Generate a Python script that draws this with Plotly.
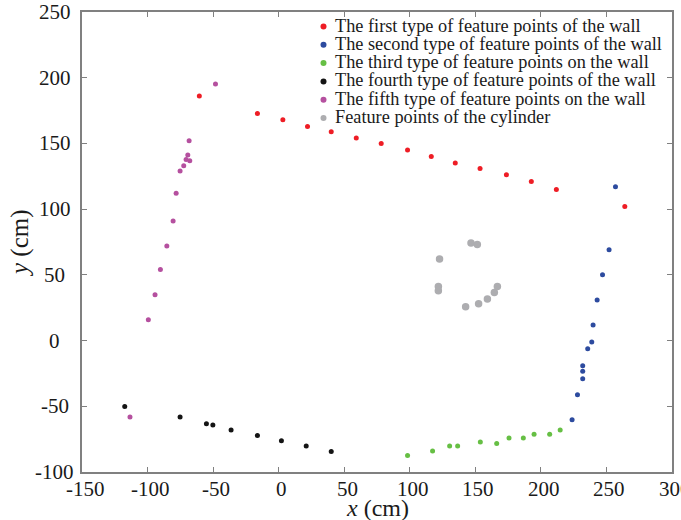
import plotly.graph_objects as go

# Data
first_x = [-60.5, -16.2, 3.2, 22.0, 40.1, 59.2, 78.2, 98.3, 116.4, 134.7, 153.6, 173.7, 192.7, 211.8, 264.0]
first_y = [186.1, 172.8, 168.0, 162.9, 158.9, 154.1, 150.0, 145.0, 140.1, 135.1, 131.0, 126.2, 121.1, 115.0, 102.1]

second_x = [223.8, 227.9, 231.9, 231.9, 231.9, 235.7, 238.8, 239.8, 242.9, 247.0, 252.0, 256.9]
second_y = [-60.3, -41.2, -29.1, -23.3, -19.2, -6.2, -1.1, 11.8, 30.8, 50.1, 69.1, 117.0]

third_x = [98.3, 117.4, 130.4, 136.5, 153.8, 166.3, 175.7, 186.6, 194.8, 206.7, 214.7]
third_y = [-87.4, -84.1, -80.3, -80.3, -77.2, -78.3, -74.2, -74.2, -71.2, -71.2, -68.1]

fourth_x = [-117.4, -75.2, -55.1, -50.2, -36.3, -16.2, 2.1, 21.0, 40.1]
fourth_y = [-50.2, -58.2, -63.3, -64.3, -68.1, -72.2, -76.3, -80.3, -84.4]

fifth_x = [-48.2, -68.3, -69.3, -70.6, -67.8, -72.4, -75.2, -78.2, -80.5, -85.3, -90.2, -94.3, -99.4, -113.4]
fifth_y = [195.2, 152.1, 141.2, 137.8, 136.8, 133.0, 129.0, 112.0, 91.0, 71.9, 54.1, 34.9, 15.8, -58.2]

cyl_x = [146.7, 151.5, 122.7, 121.8, 121.8, 142.6, 152.5, 159.2, 164.5, 166.8]
cyl_y = [74.2, 73.1, 62.0, 41.2, 37.9, 25.7, 28.0, 31.6, 36.6, 41.2]

x_ticks = [-150, -100, -50, 0, 50, 100, 150, 200, 250, 300]
x_ticklabels = ["-150", "-100", "-50", "0", "50", "100", "150", "200", "250", "300"]
y_ticks = [-100, -50, 0, 50, 100, 150, 200, 250]
y_ticklabels = ["-100", "-50", "0", "50", "100", "150", "200", "250"]

names = [
    "The first type of feature points of the wall",
    "The second type of feature points of the wall",
    "The third type of feature points on the wall",
    "The fourth type of feature points of the wall",
    "The fifth type of feature points on the wall",
    "Feature points of the cylinder",
]
colors = ["#ee1d25", "#2d4b9f", "#66bf44", "#141414", "#b5509f", "#adadb0"]
sizes = [5, 5, 5, 5, 5, 7.5]
series = [(first_x, first_y), (second_x, second_y), (third_x, third_y),
          (fourth_x, fourth_y), (fifth_x, fifth_y), (cyl_x, cyl_y)]

FONT = "Liberation Serif"
TXT = "#1a1a1a"
W, H = 681, 520
ML, MR, MT, MB = 82, 9, 12, 48
PW, PH = W - ML - MR, H - MT - MB

fig = go.Figure()
for (xs, ys), n, c, s in zip(series, names, colors, sizes):
    fig.add_trace(go.Scatter(x=xs, y=ys, mode="markers", name=n, showlegend=False,
                             marker=dict(color=c, size=s, line=dict(width=0))))

axis_common = dict(
    showgrid=False, zeroline=False, showline=True, linecolor="#808080", linewidth=1.5,
    mirror="ticks", ticks="inside", ticklen=5, tickcolor="#808080", tickwidth=1.2,
    automargin=False, showticklabels=False,
)

annotations = []
shapes = []

# Tick labels (placed through the axes' own scales)
for v, t in zip(x_ticks, x_ticklabels):
    annotations.append(dict(text=t, xref="x", x=v, yref="paper", y=(H - MB - 488.5) / PH,
                            xanchor="center", yanchor="middle", xshift=3, showarrow=False,
                            font=dict(family=FONT, size=21, color=TXT)))
for v, t in zip(y_ticks, y_ticklabels):
    annotations.append(dict(text=t, yref="y", y=v, xref="paper", x=(54.5 - ML) / PW,
                            xanchor="center", yanchor="middle", showarrow=False,
                            font=dict(family=FONT, size=21, color=TXT)))

# Manual legend (annotations + circle shapes), placed in paper coordinates
dot_px = 323.5
text_px = 333
row0_py = 26.5
row_gap = 18.3
for i, (n, c) in enumerate(zip(names, colors)):
    py = row0_py + i * row_gap
    yp = (H - MB - py) / PH
    xd = (dot_px - ML) / PW
    xt = (text_px - ML) / PW
    shapes.append(dict(type="circle", xref="paper", yref="paper",
                       xsizemode="pixel", ysizemode="pixel",
                       xanchor=xd, yanchor=yp, x0=-3, x1=3, y0=-3, y1=3,
                       fillcolor=c, line=dict(width=0)))
    annotations.append(dict(text=n, xref="paper", yref="paper", x=xt, y=yp + 0.002,
                            xanchor="left", yanchor="middle", showarrow=False,
                            font=dict(family=FONT, size=18.3, color=TXT)))

# Axis titles
annotations.append(dict(text="<i>x</i> (cm)", xref="paper", yref="paper",
                        x=(377 - ML) / PW, y=(H - MB - 508) / PH,
                        xanchor="center", yanchor="middle", showarrow=False,
                        font=dict(family=FONT, size=24, color=TXT)))
annotations.append(dict(text="<i>y</i> (cm)", xref="paper", yref="paper",
                        x=(20 - ML) / PW, y=(H - MB - 243) / PH, textangle=-90,
                        xanchor="center", yanchor="middle", showarrow=False,
                        font=dict(family=FONT, size=25, color=TXT)))

fig.update_layout(
    width=W, height=H,
    margin=dict(l=ML, r=MR, t=MT, b=MB),
    plot_bgcolor="white", paper_bgcolor="white",
    font=dict(family=FONT, color=TXT),
    xaxis=dict(range=[-150, 300], tickvals=x_ticks, **axis_common),
    yaxis=dict(range=[-100, 250], tickvals=y_ticks, **axis_common),
    showlegend=False,
    annotations=annotations,
    shapes=shapes,
)

fig.write_html("out.html")
